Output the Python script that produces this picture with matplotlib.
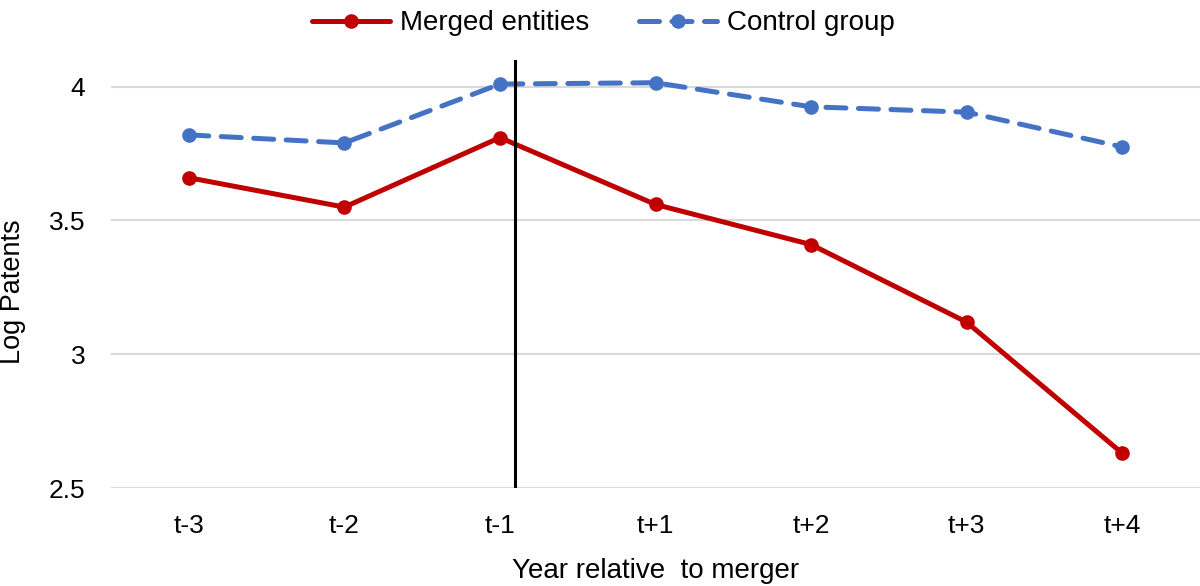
import matplotlib.pyplot as plt

plt.rcParams["font.family"] = ["Liberation Sans", "DejaVu Sans"]

years = ["t-3", "t-2", "t-1", "t+1", "t+2", "t+3", "t+4"]
merged = [3.66, 3.55, 3.81, 3.56, 3.41, 3.12, 2.63]
control = [3.82, 3.79, 4.01, 4.015, 3.925, 3.905, 3.775]
merger_pos = 2.1

fig = plt.figure(figsize=(12, 5.86), dpi=100)
ax = fig.add_axes([111 / 1200, 98 / 586, 1089 / 1200, 428 / 586])

x = list(range(len(years)))
ax.plot(x, merged, color="#C00000", linewidth=3.6, marker="o", markersize=9.5,
        label="Merged entities", solid_capstyle="round")
ax.plot(x, control, color="#4472C4", linewidth=3.6, marker="o", markersize=9.5,
        linestyle=(0, (4, 2.5)), label="Control group", dash_capstyle="round")
ax.axvline(merger_pos, color="black", linewidth=2.2, zorder=3)

ax.set_xlim(-0.5, len(years) - 0.5)
ax.set_ylim(2.5, 4.1)
ax.set_yticks([2.5, 3, 3.5, 4])
ax.set_yticklabels(["2.5", "3", "3.5", "4"])
ax.set_xticks(x)
ax.set_xticklabels(years)
ax.grid(axis="y", color="#D9D9D9", linewidth=1.5)
ax.set_axisbelow(True)
for s in ax.spines.values():
    s.set_visible(False)
ax.tick_params(length=0, labelsize=19, colors="#000000")
ax.tick_params(axis="y", pad=18.5)
ax.tick_params(axis="x", pad=19)

ax.set_ylabel("Log Patents", fontsize=19.5)
ax.yaxis.set_label_coords(-0.078, 0.458)
ax.set_xlabel("Year relative  to merger", fontsize=20, labelpad=14)

fig.legend(loc="upper center", bbox_to_anchor=(0.503, 1.025), ncol=2, frameon=False,
           fontsize=20, handlelength=2.8, columnspacing=1.8, handletextpad=0.36)

fig.savefig("out.png", dpi=100)
